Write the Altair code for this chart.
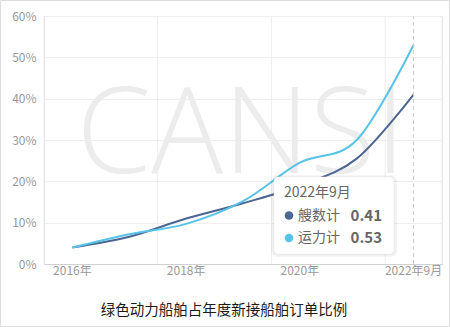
import altair as alt
import pandas as pd

years = ["2016年", "2017年", "2018年", "2019年", "2020年", "2021年", "2022年9月"]
ship_count = [0.040, 0.066, 0.110, 0.147, 0.190, 0.255, 0.41]
capacity = [0.040, 0.072, 0.097, 0.152, 0.245, 0.300, 0.53]
series_names = ["艘数计", "运力计"]
colors = ["#4b6692", "#58c3e8"]
label_years = ["2016年", "2018年", "2020年", "2022年9月"]
y_ticks = [0, 0.1, 0.2, 0.3, 0.4, 0.5, 0.6]
title_text = "绿色动力船舶占年度新接船舶订单比例"
watermark = "CANSI"
tip_title = "2022年9月"
tip_values = ["0.41", "0.53"]

FONT = "Noto Sans CJK SC"
W, H = 398, 248

rows = []
for name, vals in zip(series_names, [ship_count, capacity]):
    for y, v in zip(years, vals):
        rows.append({"year": y, "series": name, "value": v})
df = pd.DataFrame(rows)

xscale = alt.Scale(type="band", domain=years, paddingInner=0, paddingOuter=0)
yscale = alt.Scale(domain=[0, 0.6], nice=False)
cscale = alt.Scale(domain=series_names, range=colors)

x_enc = alt.X(
    "year:N", sort=years, bandPosition=0.5, scale=xscale,
    axis=alt.Axis(values=label_years, grid=False,
                  ticks=False, domainColor="#d0d0d0", labelColor="#999999", labelFontSize=12,
                  labelFont=FONT, labelPadding=6, labelAngle=0, labelAlign="center", title=None),
)
y_enc = alt.Y(
    "value:Q", scale=yscale,
    axis=alt.Axis(values=y_ticks, format=".0%", gridColor="#eeeeee", ticks=False,
                  domainColor="#dddddd", labelColor="#999999", labelFontSize=12,
                  labelFont=FONT, labelPadding=8, title=None),
)

# vertical grid lines at the band boundaries of every other category
grid_df = pd.DataFrame({"year": label_years, "lo": [0.0] * 4, "hi": [0.6] * 4})
vgrid = alt.Chart(grid_df).mark_rule(color="#eeeeee", strokeWidth=1).encode(
    x=alt.X("year:N", bandPosition=0, scale=xscale), y=alt.Y("lo:Q", scale=yscale), y2="hi:Q"
)
vgrid_end = alt.Chart(grid_df.tail(1)).mark_rule(color="#eeeeee", strokeWidth=1).encode(
    x=alt.X("year:N", bandPosition=1, scale=xscale), y=alt.Y("lo:Q", scale=yscale), y2="hi:Q"
)

wm = alt.Chart(pd.DataFrame({"year": ["2019年"], "value": [0.22], "t": [watermark]})).mark_text(
    font="Open Sans", fontSize=120, fontWeight=300, color="#ececec", baseline="alphabetic",
    align="center", dx=-2
).encode(x=alt.X("year:N", bandPosition=0.5, scale=xscale), y=alt.Y("value:Q", scale=yscale), text="t:N")

lines = alt.Chart(df).mark_line(interpolate="cardinal", tension=0, strokeWidth=2).encode(
    x=x_enc, y=y_enc, color=alt.Color("series:N", scale=cscale, legend=None)
)

vline = alt.Chart(pd.DataFrame({"year": ["2022年9月"], "lo": [0.0], "hi": [0.6]})).mark_rule(
    color="#cccccc", strokeDash=[4, 3], strokeWidth=1
).encode(x=alt.X("year:N", bandPosition=0.5, scale=xscale), y=alt.Y("lo:Q", scale=yscale), y2="hi:Q")

# tooltip panel
tip_bg = pd.DataFrame({"k": [0]})
shadow = alt.Chart(tip_bg).mark_rect(cornerRadius=6, fill="#000000", opacity=0.035).encode(
    x=alt.value(227), x2=alt.value(353), y=alt.value(159), y2=alt.value(241)
)
shadow2 = alt.Chart(tip_bg).mark_rect(cornerRadius=5, fill="#000000", opacity=0.04).encode(
    x=alt.value(228.5), x2=alt.value(351.5), y=alt.value(160), y2=alt.value(239.5)
)
panel = alt.Chart(tip_bg).mark_rect(cornerRadius=4, fill="#ffffff", stroke="#eeeeee", strokeWidth=0.5).encode(
    x=alt.value(230), x2=alt.value(350), y=alt.value(161), y2=alt.value(238)
)
tip_t = alt.Chart(pd.DataFrame({"t": [tip_title]})).mark_text(
    font=FONT, fontSize=14, color="#666666", align="left", baseline="middle"
).encode(x=alt.value(240), y=alt.value(177), text="t:N")

tip_rows = pd.DataFrame({"series": series_names, "v": tip_values, "ypix": [199.5, 222]})
dots = alt.Chart(tip_rows).mark_point(filled=True, size=75, opacity=1, shape="circle").encode(
    x=alt.value(245), y=alt.Y("ypix:Q", scale=None), color=alt.Color("series:N", scale=cscale, legend=None)
)
names = alt.Chart(tip_rows).mark_text(font=FONT, fontSize=14, color="#666666", align="left", baseline="middle").encode(
    x=alt.value(254), y=alt.Y("ypix:Q", scale=None), text="series:N"
)
vals = alt.Chart(tip_rows).mark_text(font=FONT, fontSize=15, fontWeight="bold", color="#666666",
                                     align="right", baseline="middle").encode(
    x=alt.value(338), y=alt.Y("ypix:Q", scale=None), text="v:N"
)

title = alt.Chart(pd.DataFrame({"t": [title_text]})).mark_text(
    font=FONT, fontSize=14.5, color="#1a1a1a", align="center", baseline="middle"
).encode(x=alt.value(180), y=alt.value(295), text="t:N")

border = alt.Chart(tip_bg).mark_rect(fill=None, stroke="#dddddd", strokeWidth=1).encode(
    x=alt.value(-43.5), x2=alt.value(405.5), y=alt.value(-15.5), y2=alt.value(310.5)
)

chart = alt.layer(vgrid, vgrid_end, wm, lines, vline, shadow, shadow2, panel, tip_t, dots, names, vals,
                  title, border).properties(
    width=W, height=H,
    autosize=alt.AutoSizeParams(type="none"),
    padding={"left": 44, "top": 16, "right": 8, "bottom": 63},
).configure_view(stroke=None).configure(background="#ffffff")

chart.save("out.html", embed_options={"renderer": "svg", "actions": False})
